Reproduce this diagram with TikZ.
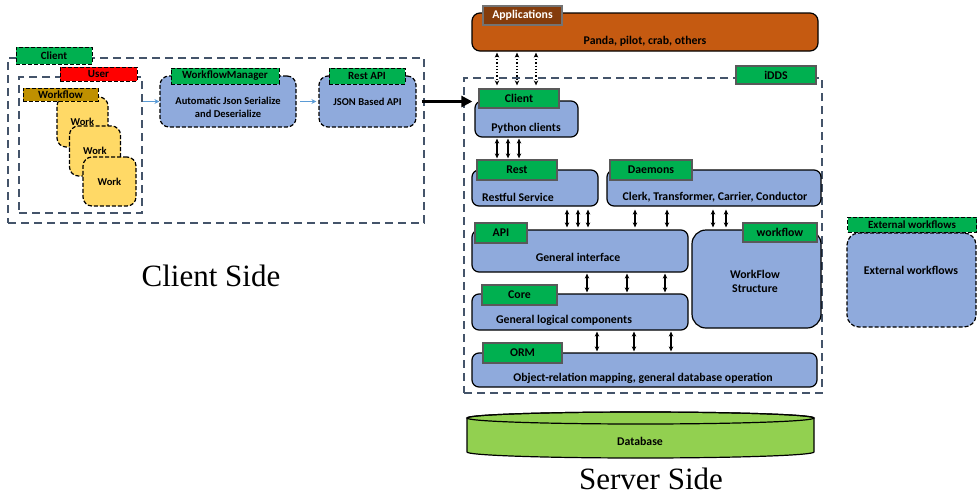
\documentclass[tikz,border=0pt]{standalone}
\usepackage{fontspec}
\setmainfont{Liberation Serif}
\newfontfamily\calib{Carlito}
\usetikzlibrary{arrows.meta}
\definecolor{boxblue}{RGB}{143,170,220}
\definecolor{taggreen}{RGB}{0,176,80}
\definecolor{dashgray}{RGB}{68,84,106}
\definecolor{apporange}{RGB}{197,90,17}
\definecolor{appbrown}{RGB}{132,60,12}
\definecolor{workyellow}{RGB}{255,217,102}
\definecolor{wfgold}{RGB}{191,144,0}
\definecolor{dbgreen}{RGB}{146,208,80}
\definecolor{arrowblue}{RGB}{91,155,213}

\begin{document}
\begin{tikzpicture}[x=1pt,y=-1pt,
  every node/.style={font=\calib\bfseries\fontsize{11.8}{14}\selectfont, inner sep=0pt},
  small/.style={font=\calib\bfseries\fontsize{10.5}{13}\selectfont},
  region/.style={draw=dashgray, line width=1.6pt, dash pattern=on 8pt off 5pt},
  sbox/.style={draw=black, line width=1.2pt, rounded corners=7pt, fill=boxblue},
  cbox/.style={sbox, dash pattern=on 4pt off 2pt, rounded corners=9pt},
  work/.style={cbox, small, fill=workyellow, minimum width=51, minimum height=50},
  tag/.style={fill=taggreen, draw=black!65, line width=1.3pt},
  ctag/.style={tag, draw=black, line width=1pt, dash pattern=on 4pt off 2pt, font=\calib\bfseries\fontsize{11}{13}\selectfont},
  link/.style={{Stealth[length=5pt,width=4.5pt]}-{Stealth[length=5pt,width=4.5pt]}, line width=1.3pt, shorten <=1pt, shorten >=1pt},
  flow/.style={-{Stealth[length=5pt,width=5pt]}, arrowblue, line width=1.2pt}]
  \useasboundingbox (0,0) rectangle (978,499);

  % client side
  \node[region, minimum width=416, minimum height=165] (clientreg) at (216,140.5) {};
  \node[ctag, minimum width=76, minimum height=17] (clienttag) at (54,55.5) {Client};
  \node[region, minimum width=123, minimum height=136] (userreg) at (80.5,145) {};
  \node[ctag, fill=red, minimum width=77, minimum height=14] (usertag) at (98.5,74) {User};
  \node[work] (work1) at (82.5,122) {Work};
  \node[work] (work2) at (95,151) {Work};
  \node[work, minimum width=53, minimum height=49] (work3) at (109.5,181.5) {Work};
  \node[ctag, fill=wfgold, minimum width=75, minimum height=13] (wftag) at (60.5,94.5) {Workflow};

  \node[cbox, minimum width=136, minimum height=51] (wm) at (228,101.5) {};
  \node[ctag, minimum width=108, minimum height=16] (wmtag) at (225,76) {WorkflowManager};
  \node[small, align=center] (wmtxt) at (228,107) {Automatic Json Serialize\\and Deserialize};
  \node[cbox, small, minimum width=97, minimum height=51] (restapi) at (367.5,101.5) {JSON Based API};
  \node[ctag, minimum width=76, minimum height=16] (restapitag) at (367,76) {Rest API};

  \draw[flow] (userreg.east |- wm.west) -- (wm.west);
  \draw[flow, shorten <=3pt, shorten >=2pt] (wm.east) -- (restapi.west);

  \node[font=\rmfamily\fontsize{31}{36}\selectfont] (clientside) at (211,276) {Client Side};

  % server side
  \node[sbox, fill=apporange, rounded corners=8pt, minimum width=346, minimum height=38] (apps) at (645,32) {};
  \node (appstxt) at (645,41) {Panda, pilot, crab, others};
  \node[tag, fill=appbrown, draw=black!55, text=white, minimum width=79, minimum height=19] (appstag) at (522.5,15.5) {Applications};

  \node[region, minimum width=358, minimum height=315] (idds) at (643,235.5) {};
  \node[tag, minimum width=80, minimum height=18] (iddstag) at (776,75) {iDDS};

  \node[sbox, minimum width=103, minimum height=36] (client) at (526.5,119) {};
  \node (clienttxt) at (526,128) {Python clients};
  \node[tag, minimum width=80, minimum height=19] (cltag) at (519,98.5) {Client};

  \node[sbox, minimum width=126, minimum height=36] (rest) at (535,188) {};
  \node (resttxt) at (518,197) {Restful Service};
  \node[tag, minimum width=80, minimum height=20] (resttag) at (517,170) {Rest};

  \node[sbox, minimum width=214, minimum height=36] (daemons) at (714,188) {};
  \node (daemonstxt) at (715,197) {Clerk, Transformer, Carrier, Conductor};
  \node[tag, minimum width=82, minimum height=20] (daemonstag) at (651,170) {Daemons};

  \node[sbox, minimum width=216, minimum height=42] (api) at (580,251) {};
  \node (apitxt) at (578,257) {General interface};
  \node[tag, minimum width=52, minimum height=20] (apitag) at (501,233) {API};

  \node[sbox, rounded corners=14pt, minimum width=129, minimum height=98] (wflow) at (756.5,279) {};
  \node[align=center] (wflowtxt) at (755,281) {WorkFlow\\Structure};
  \node[tag, minimum width=74, minimum height=19] (wflowtag) at (780,232.5) {workflow};

  \node[sbox, minimum width=216, minimum height=36] (core) at (580,312) {};
  \node (coretxt) at (564,320) {General logical components};
  \node[tag, minimum width=75, minimum height=20] (coretag) at (519.5,295) {Core};

  \node[sbox, minimum width=345, minimum height=34] (orm) at (644.5,370) {};
  \node (ormtxt) at (643,378) {Object-relation mapping, general database operation};
  \node[tag, minimum width=79, minimum height=20] (ormtag) at (522.5,353) {ORM};

  % connectors
  \draw[-{Triangle[length=11pt,width=11pt]}, line width=2.6pt, shorten <=5pt, shorten >=6pt] (restapi.east) -- (restapi.east -| cltag.west);
  \foreach \x in {497,517,536}
    \draw[link, dotted, shorten >=3pt] (\x,0 |- apps.south) -- (\x,0 |- cltag.north);
  \foreach \x in {497,508,519}
    \draw[link] (\x,0 |- client.south) -- (\x,0 |- resttag.north);
  \foreach \x in {567,578,588}
    \draw[link, shorten <=3pt, shorten >=2pt] (\x,0 |- rest.south) -- (\x,0 |- api.north);
  \foreach \x in {635,667}
    \draw[link, shorten <=3pt, shorten >=2pt] (\x,0 |- daemons.south) -- (\x,0 |- api.north);
  \foreach \x in {713,726}
    \draw[link, shorten <=3pt, shorten >=2pt] (\x,0 |- daemons.south) -- (\x,0 |- wflow.north);
  \foreach \x in {587,627,665}
    \draw[link] (\x,0 |- api.south) -- (\x,0 |- core.north);
  \foreach \x in {597,634,671}
    \draw[link] (\x,0 |- core.south) -- (\x,0 |- orm.north);

  % external workflows
  \node[cbox, rounded corners=12pt, minimum width=129, minimum height=94] (ext) at (911.5,280) {};
  \node (exttxt) at (911,270) {External workflows};
  \node[ctag, minimum width=129, minimum height=15] (exttag) at (912,224.5) {External workflows};

  % database
  \draw[fill=dbgreen, line width=1.2pt] (467,418) -- (467,452)
    arc[start angle=180, end angle=0, x radius=173.5, y radius=6] -- (814,418)
    arc[start angle=0, end angle=-180, x radius=173.5, y radius=6] -- cycle;
  \draw[line width=1.2pt] (640.5,418) ellipse[x radius=173.5, y radius=6];
  \node (db) at (640,441) {Database};
  \node[font=\rmfamily\fontsize{31}{36}\selectfont] (serverside) at (651,479) {Server Side};
\end{tikzpicture}
\end{document}
